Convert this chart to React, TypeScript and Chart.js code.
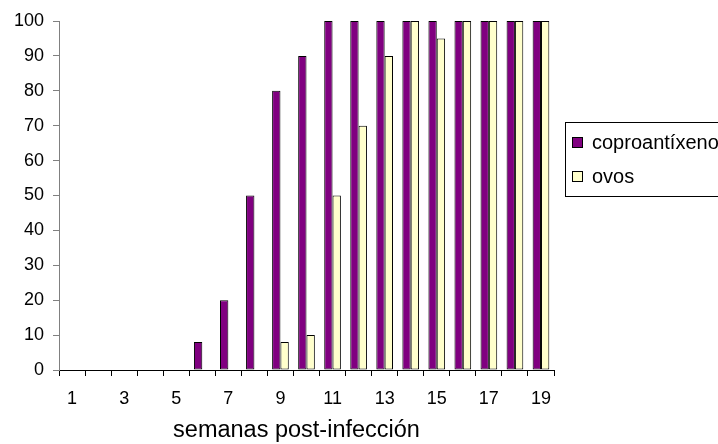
import React, { useEffect, useRef } from "react";
import { Chart, registerables } from "chart.js";

Chart.register(...registerables);

const weeks = ["1", "2", "3", "4", "5", "6", "7", "8", "9", "10", "11", "12", "13", "14", "15", "16", "17", "18", "19"];
const coproantigen = [0, 0, 0, 0, 0, 8, 20, 50, 80, 90, 100, 100, 100, 100, 100, 100, 100, 100, 100];
const eggs = [0, 0, 0, 0, 0, 0, 0, 0, 8, 10, 50, 70, 90, 100, 95, 100, 100, 100, 100];
const seriesNames = ["coproantíxeno", "ovos"];
const seriesColors = ["#800080", "#FFFFCC"];
const xTitle = "semanas post-infección";
const yMin = 0;
const yMax = 100;
const yStep = 10;

const FONT = "'Liberation Sans', Arial, sans-serif";

const legendPlugin = {
  id: "boxLegend",
  afterDraw(chart: any) {
    const ctx = chart.ctx;
    ctx.save();
    // axis title (slightly left of the plot centre, as in the reference)
    ctx.font = `23.5px ${FONT}`;
    ctx.fillStyle = "#000";
    ctx.textAlign = "center";
    ctx.textBaseline = "middle";
    ctx.fillText(xTitle, chart.chartArea.left + (chart.chartArea.right - chart.chartArea.left) / 2 - 10, 431);

    ctx.strokeStyle = "#000";
    ctx.lineWidth = 1;
    ctx.strokeRect(565.5, 122.5, 200, 74);
    const rows = [142, 176];
    ctx.font = `20px ${FONT}`;
    ctx.textBaseline = "middle";
    ctx.textAlign = "left";
    seriesNames.forEach((name, i) => {
      const y = rows[i];
      ctx.fillStyle = seriesColors[i];
      ctx.fillRect(572, y - 5, 10, 10);
      ctx.strokeStyle = "#000";
      ctx.strokeRect(572.5, y - 4.5, 10, 10);
      ctx.fillStyle = "#000";
      ctx.fillText(name, 592, y + 1);
    });
    ctx.restore();
  },
};

export default function App() {
  const ref = useRef<HTMLCanvasElement | null>(null);

  useEffect(() => {
    const canvas = ref.current;
    if (!canvas) return;
    const chart = new Chart(canvas, {
      type: "bar",
      data: {
        labels: weeks,
        datasets: [
          {
            label: seriesNames[0],
            data: coproantigen,
            backgroundColor: seriesColors[0],
            borderColor: "#000",
            borderWidth: 1,
            borderSkipped: false,
            categoryPercentage: 0.64,
            barPercentage: 1,
          },
          {
            label: seriesNames[1],
            data: eggs,
            backgroundColor: seriesColors[1],
            borderColor: "#000",
            borderWidth: 1,
            borderSkipped: false,
            categoryPercentage: 0.64,
            barPercentage: 1,
          },
        ],
      },
      options: {
        responsive: false,
        animation: false,
        devicePixelRatio: 1,
        layout: { padding: { left: 0, top: 21, right: 164, bottom: 0 } },
        plugins: {
          legend: { display: false },
          tooltip: { enabled: false },
        },
        scales: {
          x: {
            offset: true,
            grid: {
              display: true,
              drawOnChartArea: false,
              drawTicks: true,
              tickLength: 6,
              color: "#000",
              offset: true,
            },
            border: { display: true, color: "#000", width: 1 },
            ticks: {
              autoSkip: false,
              maxRotation: 0,
              minRotation: 0,
              padding: 12,
              color: "#000",
              font: { family: FONT, size: 18 },
              callback: (_v: any, i: number) => (i % 2 === 0 ? weeks[i] : ""),
            },
            afterFit: (scale: any) => {
              scale.height = 74;
            },
          },
          y: {
            min: yMin,
            max: yMax,
            grid: {
              display: true,
              drawOnChartArea: false,
              drawTicks: true,
              tickLength: 6,
              color: "#808080",
            },
            border: { display: true, color: "#808080", width: 1 },
            ticks: {
              stepSize: yStep,
              padding: 9,
              color: "#000",
              font: { family: FONT, size: 18 },
            },
            afterFit: (scale: any) => {
              scale.width = 59;
            },
          },
        },
      },
      plugins: [legendPlugin],
    } as any);
    return () => chart.destroy();
  }, []);

  return (
    <div style={{ position: "absolute", left: 0, top: 0, width: 718, height: 444, background: "#fff" }}>
      <canvas ref={ref} width={718} height={444} style={{ display: "block" }} />
    </div>
  );
}
